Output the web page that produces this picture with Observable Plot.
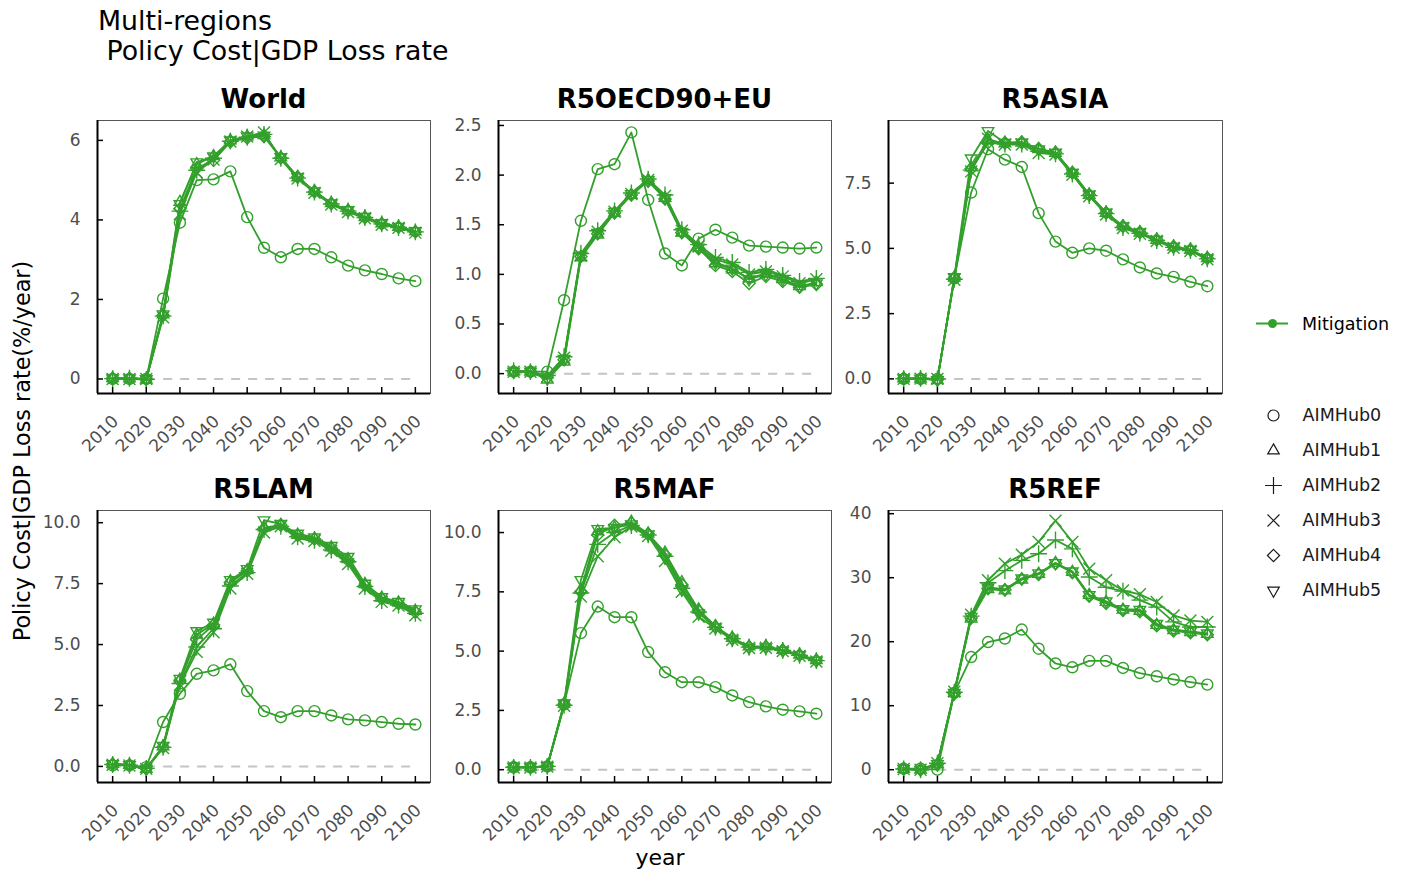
<!DOCTYPE html>
<html><head><meta charset="utf-8">
<script src="https://cdn.jsdelivr.net/npm/d3@7"></script>
<script src="https://cdn.jsdelivr.net/npm/@observablehq/plot@0.6"></script>
<style>
body{margin:0;background:#fff;}
#root{position:relative;width:1404px;height:871px;overflow:hidden;font-family:"DejaVu Sans",sans-serif;background:#fff;color:#000;}
.abs{position:absolute;white-space:pre;}
.ptitle{font-weight:bold;font-size:26px;text-align:center;color:#000;}
#root svg{overflow:visible;}
</style></head><body><div id="root"></div>
<script>
// ---------- data ----------
const years = [2010,2015,2020,2025,2030,2035,2040,2045,2050,2055,2060,2065,2070,2075,2080,2085,2090,2095,2100];
const xTicks = [2010,2020,2030,2040,2050,2060,2070,2080,2090,2100];
const models = ["AIMHub0","AIMHub1","AIMHub2","AIMHub3","AIMHub4","AIMHub5"];
const regions = ["World","R5OECD90+EU","R5ASIA","R5LAM","R5MAF","R5REF"];
const scenarioLabel = "Mitigation";

const World0 = [0,0,0,2.02,3.93,5.0,5.02,5.22,4.07,3.3,3.06,3.27,3.27,3.06,2.85,2.73,2.64,2.53,2.46];
const World1 = [0.02,0.01,-0.02,1.62,4.45,5.4,5.6,6.0,6.1,6.13,5.57,5.07,4.72,4.42,4.24,4.07,3.91,3.82,3.71];
const World2 = [0.01,0.02,-0.01,1.58,4.22,5.25,5.55,5.98,6.08,6.15,5.55,5.05,4.7,4.4,4.22,4.06,3.9,3.81,3.7];
const World3 = [0,0,0,1.55,4.15,5.2,5.52,5.97,6.1,6.2,5.53,5.04,4.68,4.39,4.2,4.04,3.88,3.8,3.68];
const World4 = [0.01,0.01,0,1.6,4.28,5.3,5.5,5.96,6.06,6.1,5.56,5.08,4.71,4.41,4.23,4.06,3.9,3.82,3.7];
const World5 = [0.02,0.02,0,1.63,4.4,5.45,5.6,6.0,6.1,6.12,5.58,5.08,4.72,4.42,4.25,4.08,3.92,3.83,3.72];

const OECD0 = [0.02,0.02,0.02,0.74,1.54,2.06,2.11,2.43,1.75,1.21,1.09,1.36,1.45,1.37,1.29,1.28,1.27,1.26,1.27];
const OECD1 = [0.02,0.02,-0.06,0.12,1.17,1.4,1.62,1.8,1.95,1.77,1.42,1.27,1.11,1.05,0.96,1.01,0.95,0.88,0.92];
const OECD2 = [0.03,0.02,-0.02,0.17,1.21,1.44,1.64,1.82,1.96,1.8,1.45,1.3,1.17,1.12,1.02,1.05,0.99,0.93,0.96];
const OECD3 = [0.02,0.02,-0.03,0.16,1.19,1.43,1.63,1.81,1.95,1.79,1.44,1.28,1.15,1.1,1.0,1.03,0.98,0.91,0.95];
const OECD4 = [0.02,0.02,-0.04,0.14,1.18,1.41,1.62,1.8,1.94,1.76,1.42,1.26,1.09,1.03,0.91,0.98,0.93,0.87,0.9];
const OECD5 = [0.02,0.02,-0.05,0.15,1.19,1.42,1.63,1.81,1.95,1.77,1.43,1.27,1.12,1.06,0.95,1.0,0.95,0.88,0.91];

const ASIA0 = [0,0,0,3.85,7.14,8.8,8.4,8.12,6.35,5.26,4.83,5.0,4.91,4.58,4.27,4.04,3.91,3.72,3.55];
const ASIA1 = [0.02,0.01,-0.05,3.88,8.1,9.15,9.02,9.05,8.8,8.66,7.88,7.05,6.36,5.84,5.6,5.32,5.06,4.94,4.62];
const ASIA2 = [0.01,0.02,0,3.82,8.0,9.05,9.0,9.0,8.72,8.62,7.85,7.02,6.33,5.8,5.58,5.3,5.04,4.92,4.6];
const ASIA3 = [0,0.01,0,3.8,7.95,9.2,8.98,8.98,8.65,8.6,7.82,7.0,6.3,5.78,5.56,5.28,5.02,4.9,4.58];
const ASIA4 = [0.01,0.01,-0.02,3.86,8.05,9.05,9.05,9.07,8.82,8.67,7.9,7.06,6.37,5.85,5.62,5.34,5.07,4.95,4.63];
const ASIA5 = [0.02,0.01,-0.04,3.9,8.45,9.5,9.05,9.06,8.8,8.66,7.9,7.06,6.37,5.85,5.62,5.33,5.06,4.95,4.62];

const LAM0 = [0.04,0.04,-0.03,1.82,2.98,3.8,3.94,4.19,3.09,2.27,2.02,2.27,2.27,2.09,1.93,1.89,1.82,1.75,1.72];
const LAM1 = [0.1,0.06,-0.1,0.82,3.55,5.4,5.85,7.6,8.05,9.8,9.9,9.5,9.35,8.98,8.5,7.48,6.92,6.72,6.38];
const LAM2 = [0.08,0.05,-0.08,0.78,3.4,4.9,5.65,7.4,7.95,9.72,9.85,9.42,9.28,8.88,8.4,7.38,6.8,6.62,6.28];
const LAM3 = [0.07,0.04,-0.1,0.75,3.35,4.7,5.5,7.3,7.9,9.6,9.85,9.35,9.25,8.85,8.3,7.3,6.75,6.6,6.2];
const LAM4 = [0.09,0.05,-0.09,0.8,3.5,5.2,5.8,7.55,8.02,9.75,9.9,9.48,9.33,8.95,8.45,7.43,6.88,6.68,6.33];
const LAM5 = [0.1,0.06,-0.1,0.85,3.6,5.55,5.9,7.65,8.1,10.1,9.95,9.55,9.4,9.05,8.6,7.5,6.95,6.75,6.45];

const MAF0 = [0.1,0.1,0.14,2.75,5.76,6.88,6.43,6.43,4.96,4.11,3.69,3.69,3.48,3.13,2.85,2.67,2.53,2.46,2.36];
const MAF1 = [0.12,0.1,0.15,2.78,7.6,10.05,10.2,10.45,9.95,9.15,7.9,6.75,6.05,5.55,5.2,5.2,5.05,4.85,4.62];
const MAF2 = [0.1,0.1,0.14,2.72,7.45,9.5,10.0,10.3,9.9,9.0,7.65,6.65,6.0,5.52,5.17,5.17,5.03,4.82,4.6];
const MAF3 = [0.09,0.09,0.13,2.7,7.3,9.0,9.8,10.25,9.85,8.8,7.5,6.45,5.95,5.48,5.13,5.14,5.0,4.8,4.56];
const MAF4 = [0.11,0.1,0.14,2.76,7.5,9.9,10.3,10.4,9.95,9.05,7.8,6.7,6.03,5.54,5.18,5.18,5.04,4.84,4.61];
const MAF5 = [0.12,0.11,0.15,2.8,8.0,10.15,10.2,10.35,9.92,8.95,7.6,6.6,6.0,5.5,5.15,5.16,5.02,4.83,4.6];

const REF0 = [0.15,0.15,0,12.0,17.6,19.95,20.5,21.9,18.9,16.6,16.0,17.0,17.0,15.9,15.1,14.6,14.1,13.7,13.3];
const REF1 = [0.1,0,0.9,12.0,23.6,28.2,28.0,29.7,30.6,32.3,30.9,27.3,26.2,25.0,24.8,22.6,21.8,21.5,21.2];
const REF2 = [0.1,0,1.0,12.1,24.0,29.2,31.1,32.7,33.75,35.9,34.5,30.1,28.5,27.9,26.5,25.4,23.1,22.3,22.3];
const REF3 = [0.1,0,1.0,12.2,24.2,29.6,32.2,33.6,35.6,38.9,35.6,31.4,29.6,28.0,27.4,26.2,24.1,23.3,23.1];
const REF4 = [0.15,0,0.8,11.9,23.7,28.3,28.1,29.8,30.5,32.2,30.8,27.1,26.0,24.9,24.7,22.5,21.7,21.4,21.1];
const REF5 = [0.15,0,0.9,12.0,23.9,28.5,28.2,29.9,30.7,32.3,31.0,27.3,26.3,25.1,25.0,22.8,21.9,21.6,21.3];

const yTicksWorld = [0,2,4,6];
const yTicksOECD = [0,0.5,1,1.5,2,2.5];
const yTicksASIA = [0,2.5,5,7.5];
const yTicksLAM = [0,2.5,5,7.5,10];
const yTicksMAF = [0,2.5,5,7.5,10];
const yTicksREF = [0,10,20,30,40];

// ---------- styling ----------
const GREEN = "#33a02c";
const downTriangle = {
  draw(context, size) {
    const s = Math.sqrt(size + Math.min(size / 28, 0.75)) * 0.6824;
    const t = s / 2, u = s * Math.sqrt(3) / 2;
    context.moveTo(0, s); context.lineTo(u, -t); context.lineTo(-u, -t); context.closePath();
  }
};
const SYMS = ["circle", "triangle2", d3.symbolPlus || "cross", d3.symbolTimes || "times", "diamond2", downTriangle];

const xdom = [2005.5, 2104.5];
const f1 = d => d.toFixed(1);
const f0 = d => String(d);

const panels = [
  {name: regions[0], left: 97, top: 120, w: 333, h: 273, ydom: [-0.365, 6.5], yticks: yTicksWorld, fmt: f0, series: [World0,World1,World2,World3,World4,World5]},
  {name: regions[1], left: 498, top: 120, w: 333, h: 273, ydom: [-0.2, 2.55], yticks: yTicksOECD, fmt: f1, series: [OECD0,OECD1,OECD2,OECD3,OECD4,OECD5]},
  {name: regions[2], left: 888, top: 120, w: 334, h: 273, ydom: [-0.56, 9.9], yticks: yTicksASIA, fmt: f1, series: [ASIA0,ASIA1,ASIA2,ASIA3,ASIA4,ASIA5]},
  {name: regions[3], left: 97, top: 510, w: 333, h: 272, ydom: [-0.66, 10.5], yticks: yTicksLAM, fmt: f1, series: [LAM0,LAM1,LAM2,LAM3,LAM4,LAM5]},
  {name: regions[4], left: 498, top: 510, w: 333, h: 272, ydom: [-0.54, 10.93], yticks: yTicksMAF, fmt: f1, series: [MAF0,MAF1,MAF2,MAF3,MAF4,MAF5]},
  {name: regions[5], left: 888, top: 510, w: 334, h: 272, ydom: [-2.0, 40.5], yticks: yTicksREF, fmt: f0, series: [REF0,REF1,REF2,REF3,REF4,REF5]}
];

const root = document.getElementById("root");
function addDiv(text, css, cls) {
  const d = document.createElement("div");
  d.className = "abs" + (cls ? " " + cls : "");
  d.textContent = text;
  Object.assign(d.style, css);
  root.appendChild(d);
  return d;
}
function place(el, left, top) {
  el.style.position = "absolute";
  el.style.left = left + "px";
  el.style.top = top + "px";
  root.appendChild(el);
}

const ML = 60, MR = 8, MT = 8, MB = 70;

for (const p of panels) {
  const marks = [
    Plot.frame({stroke: "#555", strokeWidth: 1}),
    Plot.ruleY([0], {x1: years[0], x2: years[years.length - 1], stroke: "#c4c4c4", strokeWidth: 2, strokeDasharray: "9,8"})
  ];
  const rowsList = p.series.map((arr, i) => years.map((yr, j) => ({year: yr, value: arr[j], model: models[i]})));
  rowsList.forEach(rows => marks.push(Plot.line(rows, {x: "year", y: "value", stroke: GREEN, strokeWidth: 1.8})));
  rowsList.forEach((rows, i) => marks.push(Plot.dot(rows, {x: "year", y: "value", symbol: SYMS[i], r: 5.5, stroke: GREEN, fill: "none", strokeWidth: 1.4})));
  marks.push(
    Plot.tickX(xTicks, {x: d => d, insetTop: p.h - 6, stroke: "#000", strokeWidth: 1.5}),
    Plot.tickY(p.yticks, {y: d => d, insetRight: p.w - 6, stroke: "#000", strokeWidth: 1.5}),
    Plot.ruleX([xdom[0]], {stroke: "#000", strokeWidth: 2}),
    Plot.ruleY([p.ydom[0]], {stroke: "#000", strokeWidth: 2}),
    Plot.axisX({ticks: xTicks, tickSize: 0, tickPadding: 25, dx: 3, tickRotate: -45, tickFormat: d => String(d), label: null, fontSize: 17, fill: "#4d4d4d"}),
    Plot.axisY({ticks: p.yticks, tickSize: 0, tickPadding: 17, tickFormat: p.fmt, label: null, fontSize: 17, fill: "#4d4d4d"})
  );
  const svg = Plot.plot({
    width: ML + p.w + MR, height: MT + p.h + MB,
    marginLeft: ML, marginRight: MR, marginTop: MT, marginBottom: MB,
    x: {domain: xdom},
    y: {domain: p.ydom},
    style: {fontFamily: "DejaVu Sans", background: "transparent", overflow: "visible"},
    marks
  });
  place(svg, p.left - ML, p.top - MT);
  addDiv(p.name, {left: p.left + "px", top: (p.top - 36) + "px", width: p.w + "px"}, "ptitle");
}

// titles
addDiv("Multi-regions", {left: "98px", top: "5px", fontSize: "26.8px"});
addDiv(" Policy Cost|GDP Loss rate", {left: "98px", top: "35px", fontSize: "26.8px"});
addDiv("Policy Cost|GDP Loss rate(%/year)", {left: (22 - 250) + "px", top: (451 - 13) + "px", width: "500px", height: "26px", lineHeight: "26px", fontSize: "22.3px", textAlign: "center", transform: "rotate(-90deg)"});
addDiv("year", {left: (660 - 100) + "px", top: "845px", width: "200px", fontSize: "22px", textAlign: "center"});

// legend: scenario key
const keySvg = Plot.plot({
  width: 32, height: 20, margin: 0,
  x: {domain: [0, 1], axis: null}, y: {domain: [0, 1], axis: null},
  marks: [
    Plot.ruleY([0.5], {stroke: GREEN, strokeWidth: 2}),
    Plot.dot([0.5], {x: d => d, y: d => d, r: 4.5, fill: GREEN, stroke: "none"})
  ]
});
place(keySvg, 1256, 313);
addDiv(scenarioLabel, {left: "1302px", top: "313px", fontSize: "17.5px", lineHeight: "22px"});

// legend: model symbols
const legMarks = models.map((m, i) => Plot.dot([m], {y: d => d, frameAnchor: "left", dx: 23, symbol: SYMS[i], r: 5.5, stroke: "#1a1a1a", fill: "none", strokeWidth: 1.2}));
legMarks.push(Plot.text(models, {y: d => d, text: d => d, frameAnchor: "left", dx: 52, textAnchor: "start", fontSize: 17.5, fill: "#1a1a1a"}));
const legSvg = Plot.plot({
  width: 154, height: 215, margin: 0,
  y: {type: "point", domain: models, range: [18, 196], padding: 0, axis: null},
  style: {fontFamily: "DejaVu Sans", background: "transparent", overflow: "visible"},
  marks: legMarks
});
place(legSvg, 1250, 395);
</script></body></html>
